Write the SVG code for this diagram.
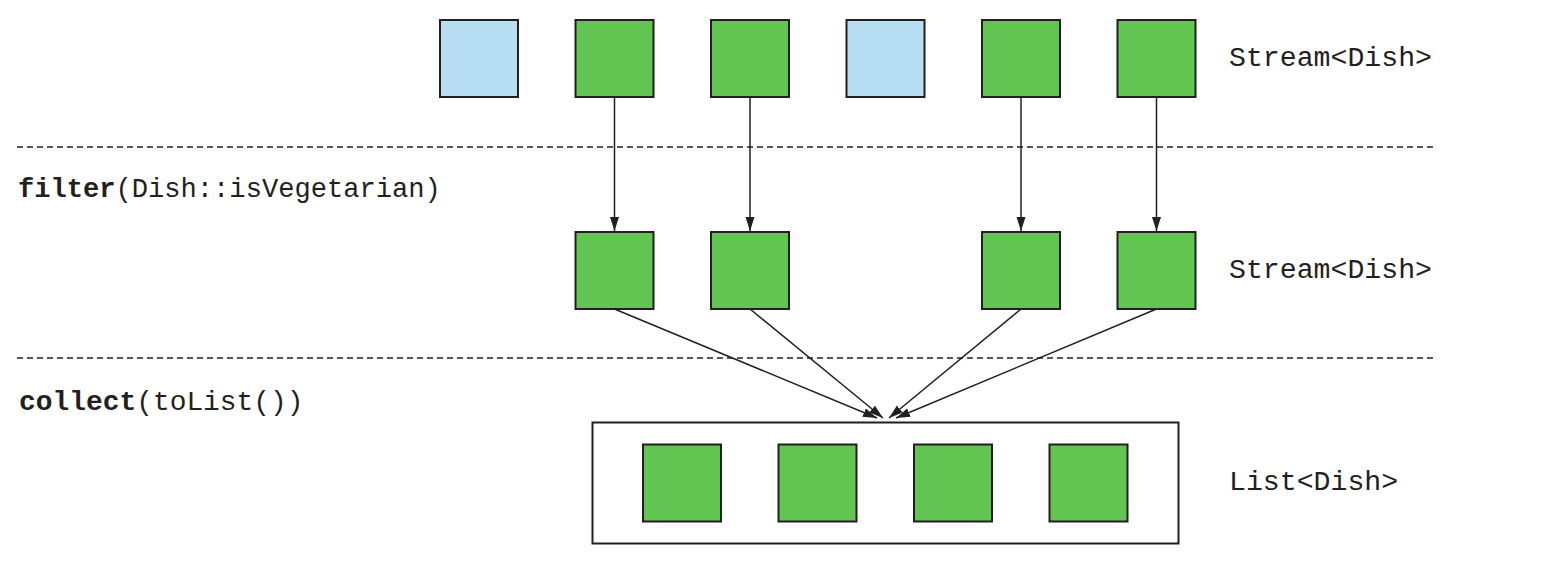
<svg xmlns="http://www.w3.org/2000/svg" width="1559" height="573" viewBox="0 0 1559 573">
<style>
.g{fill:#62c451;stroke:#231f20;stroke-width:2}
.b{fill:#b8def4;stroke:#231f20;stroke-width:2}
.box{fill:none;stroke:#231f20;stroke-width:2}
.d{stroke:#231f20;stroke-width:1.5;stroke-dasharray:6,4;fill:none}
.c{stroke:#231f20;stroke-width:1.5;fill:none;marker-end:url(#ah)}
text{font-family:"Liberation Mono","Courier New",monospace;font-size:28.2px;fill:#231f20}
.f{font-size:27.1px}
.cl{font-size:27.9px}
.bd{font-weight:bold}
</style>
<defs>
<marker id="ah" markerWidth="14" markerHeight="10" refX="14" refY="5" orient="auto" markerUnits="userSpaceOnUse">
<path d="M0,0.5 L14,5 L0,9.5 z" fill="#231f20"/>
</marker>
</defs>
<g id="separators">
<line class="d" x1="17" y1="147" x2="1437" y2="147"/>
<line class="d" x1="17" y1="358" x2="1437" y2="358"/>
</g>
<g id="row1">
<rect id="s1" class="b" x="440" y="20" width="78" height="77"/>
<rect id="s2" class="g" x="575.5" y="20" width="78" height="77"/>
<rect id="s3" class="g" x="711" y="20" width="78" height="77"/>
<rect id="s4" class="b" x="846.5" y="20" width="78" height="77"/>
<rect id="s5" class="g" x="982" y="20" width="78" height="77"/>
<rect id="s6" class="g" x="1117.5" y="20" width="78" height="77"/>
<text x="1229" y="66">Stream&lt;Dish&gt;</text>
</g>
<g id="filterLabel"><text class="f" x="18" y="197"><tspan class="bd">filter</tspan>(Dish::isVegetarian)</text></g>
<g id="row2">
<rect id="m1" class="g" x="575.5" y="232" width="78" height="77"/>
<rect id="m2" class="g" x="711" y="232" width="78" height="77"/>
<rect id="m3" class="g" x="982" y="232" width="78" height="77"/>
<rect id="m4" class="g" x="1117.5" y="232" width="78" height="77"/>
<text x="1229" y="278">Stream&lt;Dish&gt;</text>
</g>
<g id="collectLabel"><text class="cl" x="19" y="410"><tspan class="bd">collect</tspan>(toList())</text></g>
<g id="list">
<rect class="box" x="592.5" y="422.5" width="586" height="121"/>
<rect class="g" x="643" y="444.5" width="78" height="77"/>
<rect class="g" x="778.5" y="444.5" width="78" height="77"/>
<rect class="g" x="914" y="444.5" width="78" height="77"/>
<rect class="g" x="1049.5" y="444.5" width="78" height="77"/>
<text x="1229" y="490">List&lt;Dish&gt;</text>
</g>
<g id="connectors">
<line class="c" x1="614.5" y1="97" x2="614.5" y2="231"/>
<line class="c" x1="750" y1="97" x2="750" y2="231"/>
<line class="c" x1="1021" y1="97" x2="1021" y2="231"/>
<line class="c" x1="1156.5" y1="97" x2="1156.5" y2="231"/>
<line class="c" x1="614.5" y1="309" x2="877" y2="418"/>
<line class="c" x1="750" y1="309" x2="883" y2="418"/>
<line class="c" x1="1021" y1="309" x2="889" y2="418"/>
<line class="c" x1="1156.5" y1="309" x2="896" y2="418"/>
</g>
</svg>
